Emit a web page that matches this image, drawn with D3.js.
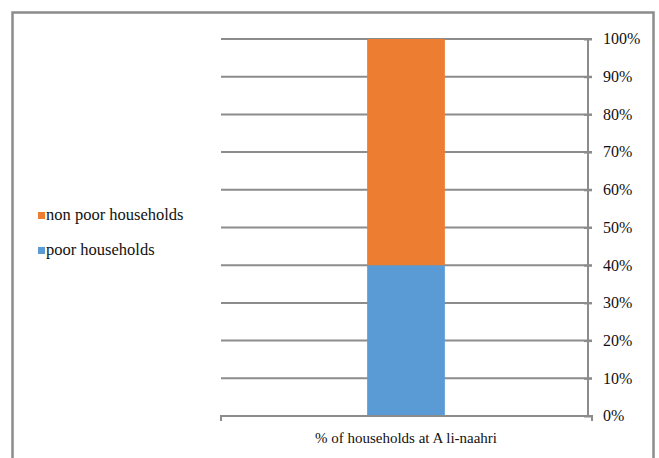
<!DOCTYPE html>
<html>
<head>
<meta charset="utf-8">
<script src="https://cdn.jsdelivr.net/npm/d3@7"></script>
<style>
  body { margin: 0; background: #fff; }
  svg { display: block; }
  svg text { font-family: "Liberation Serif", "DejaVu Serif", serif; fill: #111; }
</style>
</head>
<body>
<svg id="chart" width="659" height="458"></svg>
<script>
const categories = ['% of households at A li-naahri'];
const seriesNames = ['poor households', 'non poor households'];
const poor = [0.40];
const nonPoor = [0.60];
const yTicks = [0, 0.1, 0.2, 0.3, 0.4, 0.5, 0.6, 0.7, 0.8, 0.9, 1];
const colors = ['#5B9BD5', '#ED7D31'];

const svg = d3.select('#chart');

// outer frame
svg.append('rect')
    .attr('x', 12.5).attr('y', 12.5)
    .attr('width', 641).attr('height', 460)
    .attr('fill', 'none')
    .attr('stroke', '#8c8c8c')
    .attr('stroke-width', 2.5);

const plot = {left: 221, right: 588, top: 39, bottom: 416};

const x = d3.scaleBand().domain(categories).range([plot.left, plot.right + 3]).paddingInner(0).paddingOuter(1.88);
const y = d3.scaleLinear().domain([0, 1]).range([plot.bottom, plot.top]);

// gridlines
svg.append('g').selectAll('line')
    .data(yTicks.filter(d => d > 0))
    .join('line')
    .attr('x1', plot.left).attr('x2', plot.right + 4)
    .attr('y1', d => y(d)).attr('y2', d => y(d))
    .attr('stroke', '#8c8c8c').attr('stroke-width', 2);

// stacked bars
const rows = categories.map((c, i) => ({cat: c, 'poor households': poor[i], 'non poor households': nonPoor[i]}));
const stacked = d3.stack().keys(seriesNames)(rows);
svg.append('g').selectAll('g')
    .data(stacked)
    .join('g')
    .attr('fill', (d, i) => colors[i])
    .selectAll('rect')
    .data(d => d)
    .join('rect')
    .attr('x', d => x(d.data.cat))
    .attr('width', x.bandwidth())
    .attr('y', d => y(d[1]))
    .attr('height', d => y(d[0]) - y(d[1]));

// right axis
const yAxis = d3.axisRight(y).tickValues(yTicks).tickFormat(d3.format('.0%')).tickSize(4).tickPadding(11);
const ya = svg.append('g').attr('transform', `translate(${plot.right},0)`).call(yAxis);
ya.attr('font-family', null);
ya.select('.domain').attr('stroke', '#8c8c8c').attr('stroke-width', 2).attr('d', `M0,${plot.top}V${plot.bottom}`);
ya.selectAll('.tick line').attr('stroke', '#8c8c8c').attr('stroke-width', 2).attr('x1', -4);
ya.selectAll('.tick text').attr('font-size', 16).attr('fill', '#111').attr('dy', '0.3em');

// bottom axis
const xa = svg.append('g').attr('transform', `translate(0,${plot.bottom})`);
xa.append('path')
    .attr('d', `M${plot.left},5V0H${plot.right + 4}V5`)
    .attr('fill', 'none').attr('stroke', '#8c8c8c').attr('stroke-width', 2);
xa.selectAll('text')
    .data(categories)
    .join('text')
    .attr('x', d => x(d) + x.bandwidth() / 2)
    .attr('y', 27)
    .attr('text-anchor', 'middle')
    .attr('font-size', 15)
    .text(d => d);

// legend (reverse order, like the original)
const legend = svg.append('g').attr('transform', 'translate(38,215)');
const legendItems = seriesNames.map((n, i) => ({name: n, color: colors[i]})).reverse();
const li = legend.selectAll('g')
    .data(legendItems)
    .join('g')
    .attr('transform', (d, i) => `translate(0,${i * 35})`);
li.append('rect').attr('x', 0).attr('y', -3).attr('width', 7).attr('height', 7).attr('fill', d => d.color);
li.append('text').attr('x', 8).attr('y', 5).attr('font-size', 16.5).text(d => d.name);
</script>
</body>
</html>
